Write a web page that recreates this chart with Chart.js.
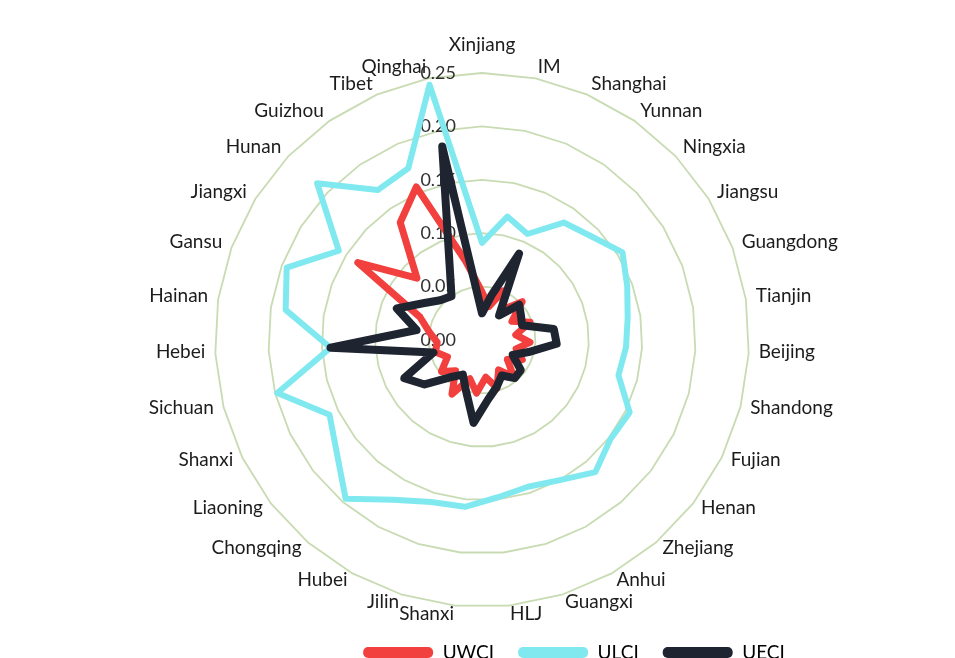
<!DOCTYPE html>
<html>
<head>
<meta charset="utf-8">
<title>UWCI / ULCI / UECI</title>
<script src="https://cdn.jsdelivr.net/npm/chart.js@4.4.1/dist/chart.umd.min.js"></script>
<style>
  html, body { margin: 0; padding: 0; background: #fff; overflow: hidden; }
  #wrap { width: 955px; height: 658px; overflow: hidden; }
</style>
</head>
<body>
<div id="wrap"><canvas id="radarChart" width="955" height="680"></canvas></div>
<script>
// provinces, clockwise from the top
const provinces = ['Xinjiang', 'IM', 'Shanghai', 'Yunnan', 'Ningxia', 'Jiangsu', 'Guangdong', 'Tianjin',
  'Beijing', 'Shandong', 'Fujian', 'Henan', 'Zhejiang', 'Anhui', 'Guangxi', 'HLJ', 'Shanxi', 'Jilin',
  'Hubei', 'Chongqing', 'Liaoning', 'Shanxi', 'Sichuan', 'Hebei', 'Hainan', 'Gansu', 'Jiangxi', 'Hunan',
  'Guizhou', 'Tibet', 'Qinghai'];

const uwci = [0.045, 0.032, 0.050, 0.035, 0.052, 0.033, 0.048, 0.032, 0.045, 0.033, 0.042, 0.030,
  0.046, 0.032, 0.047, 0.035, 0.050, 0.038, 0.058, 0.038, 0.048, 0.036, 0.045, 0.042, 0.050, 0.062,
  0.137, 0.084, 0.134, 0.156, 0.075];

const ulci = [0.091, 0.118, 0.108, 0.134, 0.141, 0.155, 0.145, 0.138, 0.135, 0.132, 0.154, 0.152,
  0.163, 0.150, 0.144, 0.148, 0.157, 0.159, 0.171, 0.196, 0.172, 0.159, 0.198, 0.142, 0.186, 0.195,
  0.158, 0.213, 0.171, 0.175, 0.244];

const ueci = [0.025, 0.042, 0.088, 0.028, 0.048, 0.043, 0.040, 0.068, 0.070, 0.045, 0.032, 0.046,
  0.047, 0.038, 0.046, 0.056, 0.078, 0.050, 0.037, 0.046, 0.068, 0.081, 0.047, 0.142, 0.062, 0.085,
  0.065, 0.054, 0.050, 0.077, 0.185];

const tickValues = [0, 0.05, 0.10, 0.15, 0.20, 0.25];

const FONT = 'Lato, "Open Sans", sans-serif';
const TEXT_COLOR = '#1c1c1c';

// value labels sit to the left of the vertical axis, under the lines
const tickLabels = {
  id: 'tickLabels',
  beforeDatasetsDraw(chart) {
    const scale = chart.scales.r;
    const ctx = chart.ctx;
    ctx.save();
    ctx.font = '18px ' + FONT;
    ctx.fillStyle = '#303030';
    ctx.textAlign = 'right';
    ctx.textBaseline = 'middle';
    tickValues.forEach(v => {
      const y = scale.yCenter - scale.getDistanceFromCenterForValue(v);
      ctx.fillText(v.toFixed(2), scale.xCenter - 26, y);
    });
    ctx.restore();
  }
};

// province names round the outside
const outerLabels = {
  id: 'outerLabels',
  afterDatasetsDraw(chart) {
    const scale = chart.scales.r;
    const ctx = chart.ctx;
    ctx.save();
    ctx.font = '19px ' + FONT;
    ctx.fillStyle = TEXT_COLOR;
    ctx.textBaseline = 'middle';
    provinces.forEach((name, i) => {
      const p = scale.getPointPosition(i, scale.drawingArea + 10);
      const dx = p.x - scale.xCenter;
      let y = p.y - 2;
      if (dx > 2) ctx.textAlign = 'left';
      else if (dx < -2) ctx.textAlign = 'right';
      else { ctx.textAlign = 'center'; y -= 16; }
      ctx.fillText(name, p.x, y);
    });
    ctx.restore();
  }
};

const ctx = document.getElementById('radarChart').getContext('2d');
new Chart(ctx, {
  type: 'radar',
  data: {
    labels: provinces,
    datasets: [
      { label: 'UWCI', data: uwci, borderColor: '#f2403e', borderWidth: 7, order: 2 },
      { label: 'ULCI', data: ulci, borderColor: '#80e9f0', borderWidth: 6, order: 3 },
      { label: 'UECI', data: ueci, borderColor: '#1f2431', borderWidth: 8, order: 1 }
    ]
  },
  options: {
    responsive: false,
    animation: false,
    layout: { padding: { left: 193, right: 0, top: 0, bottom: 8 } },
    elements: {
      line: { fill: false, tension: 0, borderJoinStyle: 'round', borderCapStyle: 'round' },
      point: { radius: 0, hoverRadius: 0 }
    },
    scales: {
      r: {
        min: 0,
        max: 0.25,
        ticks: { stepSize: 0.05, display: false },
        grid: { color: '#c8dbb3', lineWidth: 1.8 },
        angleLines: { display: false },
        pointLabels: { display: false },
        afterFit: scale => {
          // radar centred on the page, independent of the legend shift
          scale.xCenter = 482;
          scale.yCenter = 340;
          scale.drawingArea = 267;
        }
      }
    },
    plugins: {
      tooltip: { enabled: false },
      legend: {
        position: 'bottom',
        labels: {
          boxWidth: 70,
          boxHeight: 11,
          padding: 24,
          useBorderRadius: true,
          borderRadius: 5,
          color: TEXT_COLOR,
          font: { family: FONT, size: 19 },
          generateLabels: chart => chart.data.datasets.map((ds, i) => ({
            text: ds.label,
            fillStyle: ds.borderColor,
            strokeStyle: ds.borderColor,
            lineWidth: 0,
            borderRadius: 5,
            hidden: false,
            datasetIndex: i
          }))
        }
      }
    }
  },
  plugins: [tickLabels, outerLabels]
});
</script>
</body>
</html>
